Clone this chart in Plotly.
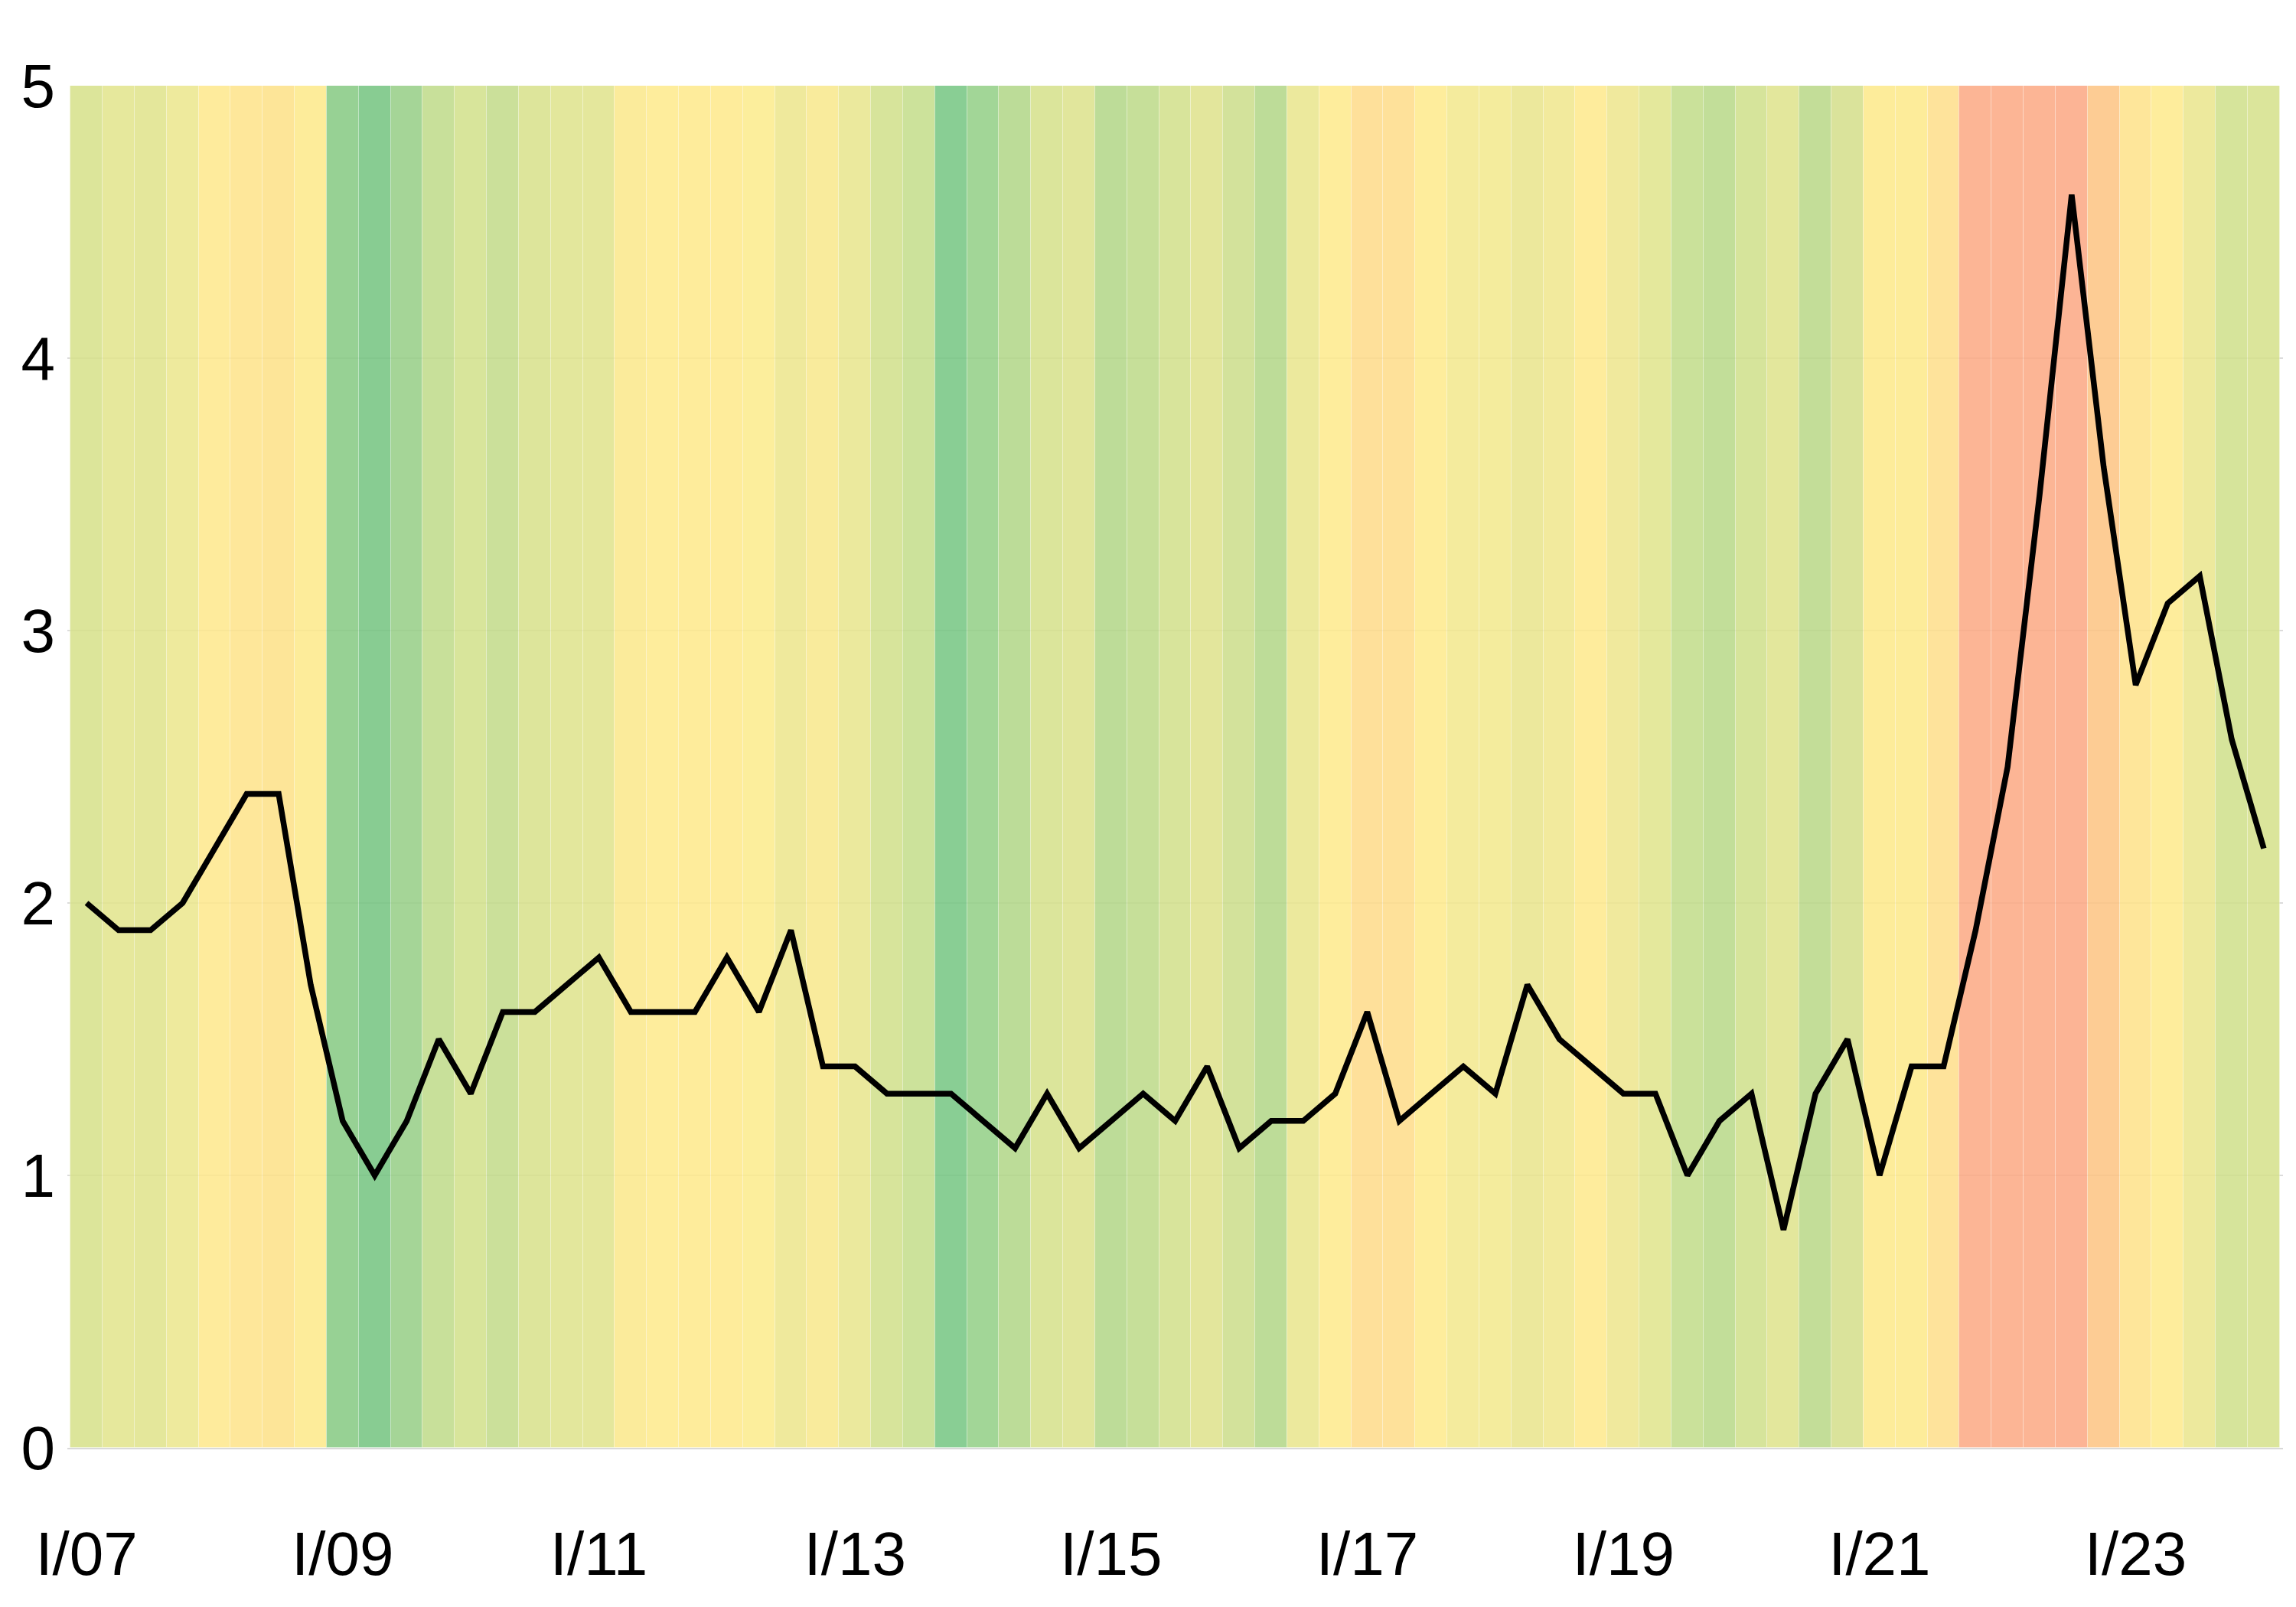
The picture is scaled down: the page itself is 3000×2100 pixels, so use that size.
import plotly.graph_objects as go

years = list(range(7, 25))
roman = ["I", "II", "III", "IV"]
quarters = [f"{q}/{y:02d}" for y in years for q in roman][:69]

values = [2.0, 1.9, 1.9, 2.0, 2.2, 2.4, 2.4, 1.7, 1.2, 1.0,
          1.2, 1.5, 1.3, 1.6, 1.6, 1.7, 1.8, 1.6, 1.6, 1.6,
          1.8, 1.6, 1.9, 1.4, 1.4, 1.3, 1.3, 1.3, 1.2, 1.1,
          1.3, 1.1, 1.2, 1.3, 1.2, 1.4, 1.1, 1.2, 1.2, 1.3,
          1.6, 1.2, 1.3, 1.4, 1.3, 1.7, 1.5, 1.4, 1.3, 1.3,
          1.0, 1.2, 1.3, 0.8, 1.3, 1.5, 1.0, 1.4, 1.4, 1.9,
          2.5, 3.5, 4.6, 3.6, 2.8, 3.1, 3.2, 2.6, 2.2]

band_colors = ["#dce59a", "#e6e89c", "#e4e79b", "#eeea9d", "#feeb9c", "#fee79a", "#fde598", "#fdec9a",
               "#97d194", "#88cc92", "#a5d597", "#c8e09a", "#d8e59b", "#cbe09a", "#dde59b", "#e3e79c",
               "#e4e79c", "#fbeb9b", "#feed9c", "#feec9b", "#feec9b", "#fcee9c", "#efe99c", "#f9eb9c",
               "#ebe99d", "#d7e49b", "#cce29b", "#89ce94", "#a2d697", "#bcdc98", "#dbe59b", "#e1e69c",
               "#bddc98", "#c6df99", "#d8e49b", "#e3e69c", "#d3e29b", "#bddc98", "#ece99d", "#feed9c",
               "#fee09a", "#fee19a", "#feed9c", "#f4eb9d", "#f4ec9d", "#ece89c", "#f2ea9d", "#feec9c",
               "#f0e99d", "#e4e89c", "#cae19a", "#c2de99", "#d6e49b", "#e3e79c", "#c3dd98", "#dae39b",
               "#fdec9a", "#fdec9a", "#fee39b", "#fcb595", "#fcb595", "#fcb595", "#fcb495", "#fdcc94",
               "#fee69a", "#feed9c", "#ede99d", "#d6e49b", "#dbe59b"]

tick_labels = ["I/07", "I/09", "I/11", "I/13", "I/15", "I/17", "I/19", "I/21", "I/23"]

y_max = 5

ALPHA = 0.85


def to_rgba(hx, a=ALPHA):
    r, g, b = (int(hx[i:i + 2], 16) for i in (1, 3, 5))
    conv = lambda c: max(0, min(255, round(255 - (255 - c) / a)))
    return f"rgba({conv(r)},{conv(g)},{conv(b)},{a})"


fig = go.Figure()
fig.add_trace(go.Bar(
    x=quarters, y=[y_max] * len(quarters),
    marker=dict(color=[to_rgba(c) for c in band_colors],
                line=dict(color="rgba(255,255,255,0.25)", width=1)),
    width=1, hoverinfo="skip", showlegend=False,
))
fig.add_trace(go.Scatter(
    x=quarters, y=values, mode="lines",
    line=dict(color="black", width=7.5),
    showlegend=False,
))

font = dict(family="Arial, Liberation Sans, sans-serif", size=80, color="black")
fig.update_layout(
    width=3000, height=2100,
    margin=dict(l=88, r=17, t=112, b=208),
    paper_bgcolor="white", plot_bgcolor="white",
    bargap=0, font=font,
)
fig.update_xaxes(
    type="category", range=[-0.6, len(quarters) - 0.4],
    tickmode="array", tickvals=tick_labels, ticktext=tick_labels,
    showgrid=False, showline=True, linecolor="#d9d9d9", linewidth=2,
    ticks="", ticklabelstandoff=68, tickfont=font,
)
fig.update_yaxes(
    range=[0, 5], tickvals=[0, 1, 2, 3, 4, 5],
    showgrid=True, gridcolor="#dcdcdc", gridwidth=2,
    zeroline=False, showline=False, ticks="",
    ticklabelstandoff=15, tickfont=font,
)

fig.write_html("out.html")
